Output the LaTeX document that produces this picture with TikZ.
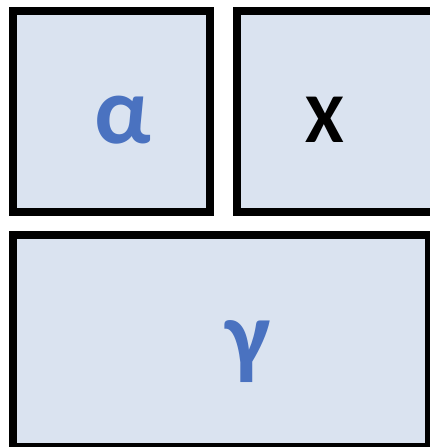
\documentclass[tikz,border=0pt]{standalone}
\usepackage{fontspec}
\setmainfont{Carlito}
\definecolor{boxfill}{HTML}{DAE3F0}
\definecolor{txtblue}{HTML}{4A72C0}
\begin{document}
\begin{tikzpicture}[x=1pt,y=-1pt,
  panel/.style={draw=black,line width=8pt,fill=boxfill,rectangle,inner sep=0pt,outer sep=0pt},
  glyph/.style={inner sep=0pt,font=\bfseries\fontsize{70}{70}\selectfont}]
\useasboundingbox (0,0) rectangle (429,447);
\node[panel,minimum width=196.5pt,minimum height=201pt] (tl) at (111.25,111.5) {};
\node[panel,minimum width=220pt,minimum height=201pt] (tr) at (347,111.5) {};
\node[panel,minimum width=416pt,minimum height=212pt] (bot) at (221,341) {};
\node[glyph,text=txtblue,font=\bfseries\fontsize{96}{96}\selectfont] (alpha) at (123,120) {α};
\node[glyph,text=black] (x) at (325,120) {X};
\node[glyph,text=txtblue,font=\bfseries\fontsize{96}{96}\selectfont] (gamma) at (248,352) {γ};
\end{tikzpicture}
\end{document}
